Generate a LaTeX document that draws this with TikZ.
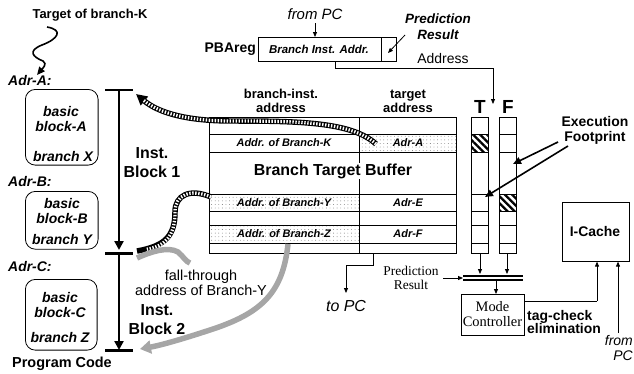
\documentclass[tikz,border=0pt]{standalone}
\usepackage{fontspec}
\setmainfont{Liberation Sans}
\newfontfamily\timesf{Liberation Serif}
\usetikzlibrary{arrows.meta,patterns.meta,calc}
\tikzset{
  bf/.style 2 args={font=\bfseries\fontsize{#1}{#2}\selectfont, inner sep=0, align=center},
  bi/.style 2 args={font=\bfseries\itshape\fontsize{#1}{#2}\selectfont, inner sep=0, align=center},
  itx/.style 2 args={font=\itshape\fontsize{#1}{#2}\selectfont, inner sep=0, align=center},
  rmx/.style 2 args={font=\fontsize{#1}{#2}\selectfont, inner sep=0, align=center},
  tmx/.style 2 args={font=\timesf\fontsize{#1}{#2}\selectfont, inner sep=0, align=center},
  boxn/.style={draw, line width=0.8, inner sep=0, anchor=north west},
  blk/.style={draw, line width=0.8, rounded corners=10, inner sep=0, anchor=north west},
  arr/.style={line width=0.8, -{Triangle[length=5,width=4]}},
  bar/.style={line width=3},
  dotfill/.style={pattern={Dots[distance=3.6, radius=0.45]}, pattern color=black!55},
  hatch/.style={pattern={Lines[angle=-45, distance=5, line width=2.3]}, pattern color=black},
  stripe/.style={line width=5.5, draw=black, postaction={draw=white, -, line width=3.3, dash pattern=on 1.4 off 1.6, shorten >=10}},
  grayband/.style={line width=5.5, draw=black!35},
}
\begin{document}
\begin{tikzpicture}[x=1bp,y=-1bp]
\useasboundingbox (0,0) rectangle (634,373);

% ---------- left: program code ----------
\node[bf={13}{15}] (tgt) at (90,15) {Target of branch-K};
\coordinate (sq0) at (47,27);
\coordinate (sq1) at (37,75);
\draw[line width=1.6, -{Triangle[length=8,width=7]}] (sq0) .. controls (64,30) and (58,39) .. (42,45) .. controls (27,51) and (33,57) .. (43,61) .. controls (48,64) and (42,69) .. (sq1);

\node[bi={14}{15}, anchor=west] (adrA) at (8,81) {Adr-A:};
\node[blk, minimum width=73, minimum height=76] (blkA) at (25,89) {};
\node[bi={14}{15}] (bA1) at (61,119) {basic\\block-A};
\node[bi={14}{15}] (bA2) at (63,157) {branch X};

\node[bi={14}{15}, anchor=west] (adrB) at (8,182) {Adr-B:};
\node[blk, minimum width=73, minimum height=58] (blkB) at (25,191) {};
\node[bi={14}{15}] (bB1) at (62,211) {basic\\block-B};
\node[bi={14}{15}] (bB2) at (62,240) {branch Y};

\node[bi={14}{15}, anchor=west] (adrC) at (8,267) {Adr-C:};
\node[blk, minimum width=72, minimum height=71] (blkC) at (25,279) {};
\node[bi={14}{15}] (bC1) at (60,305) {basic\\block-C};
\node[bi={14}{15}] (bC2) at (60,338) {branch Z};

\node[bf={14.5}{16}] (prog) at (62,364) {Program Code};

% instruction blocks
\coordinate (b1l) at (105,90);  \coordinate (b1r) at (133,90);
\coordinate (b2l) at (105,253); \coordinate (b2r) at (133,253);
\coordinate (b3l) at (105,350); \coordinate (b3r) at (133,350);
\coordinate (i1t) at (119,90);  \coordinate (i1b) at (119,250);
\coordinate (i2t) at (119,253); \coordinate (i2b) at (119,350);
\draw[bar] (b1l) -- (b1r);
\draw[bar] (b2l) -- (b2r);
\draw[bar] (b3l) -- (b3r);
\draw[line width=2.8, -{Triangle[length=9,width=9]}] (i1t) -- (i1b);
\draw[line width=2.8, -{Triangle[length=9,width=9]}] (i2t) -- (i2b);
\node[bf={16}{19}] (ib1) at (152,163) {Inst.\\Block 1};
\node[bf={16}{19}] (ib2) at (157,320) {Inst.\\Block 2};
\node[rmx={14.5}{15}] (fall) at (201,283) {fall-through\\address of Branch-Y};

% ---------- BTB ----------
\fill[dotfill] (359,134) rectangle (457,152);
\fill[dotfill] (209,194) rectangle (359,211);
\fill[dotfill] (209,225) rectangle (359,243);
\node[boxn, minimum width=248, minimum height=136] (btb) at (209,117) {};
\foreach \yy in {134,152,194,211,225,243} \draw[line width=0.8] (209,\yy) -- (457,\yy);
\draw[line width=0.8] (359,117) -- (359,253);
\node[bf={13}{14}] (h1) at (281,101) {branch-inst.\\address};
\node[bf={13}{14}] (h2) at (408,101) {target\\address};
\node[bi={11}{12}] (cK) at (284,143) {Addr. of Branch-K};
\node[bi={11}{12}] (tA) at (408,143) {Adr-A};
\node[bf={16}{18}, fill=white, inner sep=0.5] (btbt) at (333,171) {Branch Target Buffer};
\node[bi={11}{12}] (cY) at (284,203) {Addr. of Branch-Y};
\node[bi={11}{12}] (tE) at (408,203) {Adr-E};
\node[bi={11}{12}] (cZ) at (284,234) {Addr. of Branch-Z};
\node[bi={11}{12}] (tF) at (408,234) {Adr-F};

% T / F columns
\fill[hatch] (471,134) rectangle (488,152);
\fill[hatch] (499,194) rectangle (516,211);
\node[boxn, minimum width=17, minimum height=136] (Tcol) at (471,117) {};
\node[boxn, minimum width=17, minimum height=136] (Fcol) at (499,117) {};
\foreach \yy in {134,152,194,211,225,243} {
  \draw[line width=0.8] (471,\yy) -- (488,\yy);
  \draw[line width=0.8] (499,\yy) -- (516,\yy);
}
\node[bf={19}{20}] (Tl) at (480,107) {T};
\node[bf={19}{20}] (Fl) at (508,107) {F};

% Execution footprint
\node[bf={14}{15}] (exf) at (595,130) {Execution\\Footprint};
\coordinate (e1s) at (558,142); \coordinate (e1t) at (513,164);
\coordinate (e2s) at (568,146); \coordinate (e2t) at (485,197);
\draw[line width=1.6, -{Triangle[length=8,width=7]}] (e1s) -- (e1t);
\draw[line width=1.6, -{Triangle[length=8,width=7]}] (e2s) -- (e2t);

% ---------- PBAreg ----------
\node[boxn, minimum width=139, minimum height=24] (pba) at (258,37) {};
\draw[line width=0.8] (381,37) -- (381,61);
\node[bi={11.5}{12}] (pbat) at (319,49) {Branch Inst. Addr.};
\node[bf={14}{15}, anchor=east] (pbal) at (256,49) {PBAreg};
\node[itx={15}{16}] (fpc1) at (315,14) {from PC};
\coordinate (fpa) at (315,23);
\draw[arr] (fpa) -- (fpa |- pba.north);
\node[bi={13.5}{16}] (pres) at (438,27) {Prediction\\Result};
\coordinate (pr0) at (405,35); \coordinate (pr1) at (388,53);
\draw[arr] (pr0) -- (pr1);
\node[rmx={14}{15}] (addr) at (443,59) {Address};
\coordinate (ad0) at (335,61); \coordinate (ad1) at (335,68);
\coordinate (ad2) at (493,68); \coordinate (ad3) at (493,104);
\draw[line width=0.8] (ad0) -- (ad1) -- (ad2);
\draw[arr] (ad2) -- (ad3);

% ---------- bottom right ----------
\coordinate (tpc0) at (373,253); \coordinate (tpc1) at (373,265);
\coordinate (tpc2) at (346,265); \coordinate (tpc3) at (346,293);
\draw[line width=0.8] (tpc0) -- (tpc1) -- (tpc2);
\draw[arr] (tpc2) -- (tpc3);
\node[itx={16}{17}] (topc) at (346,306) {to PC};

\node[tmx={13.5}{14}] (pr2) at (411,278) {Prediction\\Result};
\coordinate (dbl) at (463,276); \coordinate (dbr) at (523,276);
\coordinate (dbl2) at (463,280); \coordinate (dbr2) at (523,280);
\draw[line width=1.3] (dbl) -- (dbr);
\draw[line width=1.3] (dbl2) -- (dbr2);
\coordinate (prA) at (443,278);
\draw[arr] (prA) -- (463,278);
\draw[arr] (Tcol.south -| 480,0) -- (480,274);
\draw[arr] (Fcol.south -| 507,0) -- (507,274);

\node[boxn, minimum width=63, minimum height=41] (mode) at (461,294) {};
\node[tmx={14.5}{15}] (modet) at (492.5,314.5) {Mode\\Controller};
\draw[arr] (496,280) -- (mode.north -| 496,0);

\node[boxn, minimum width=67, minimum height=59] (icache) at (562,202) {};
\node[bf={14}{15}] (ict) at (595,232) {I-Cache};
\coordinate (tc1) at (597,301);
\draw[line width=0.8] (mode.east |- tc1) -- (tc1);
\draw[arr] (tc1) -- (tc1 |- icache.south);
\node[bf={14}{14}, align=left, anchor=west] (tce) at (527,322) {tag-check\\elimination};
\coordinate (fpb) at (618,333);
\draw[arr] (fpb) -- (fpb |- icache.south);
\node[itx={14}{15}, align=right, anchor=north east] (fpc2) at (633,335) {from\\PC};

% ---------- curved arrows ----------
\coordinate (kS) at (376,144); \coordinate (kE) at (136,94);
\draw[stripe, -{Triangle[length=11,width=11]}] (kS) .. controls (352,122) and (300,121) .. (232,121) .. controls (190,121) and (160,114) .. (kE);

\coordinate (yS) at (211,197); \coordinate (yE) at (137,251);
\draw[stripe] (yS) .. controls (190,188) and (175,195) .. (175,212) .. controls (175,236) and (165,246) .. (yE);

\coordinate (gS) at (137,258); \coordinate (gE) at (190,263);
\draw[grayband] (gS) .. controls (150,252) and (168,246) .. (178,252) .. controls (183,256) and (186,262) .. (gE);

\coordinate (zS) at (288,244); \coordinate (zE) at (140,349);
\draw[grayband, -{Triangle[length=11,width=13]}] (zS) .. controls (283,292) and (262,312) .. (216,328) .. controls (186,338) and (162,345) .. (zE);
\end{tikzpicture}
\end{document}
